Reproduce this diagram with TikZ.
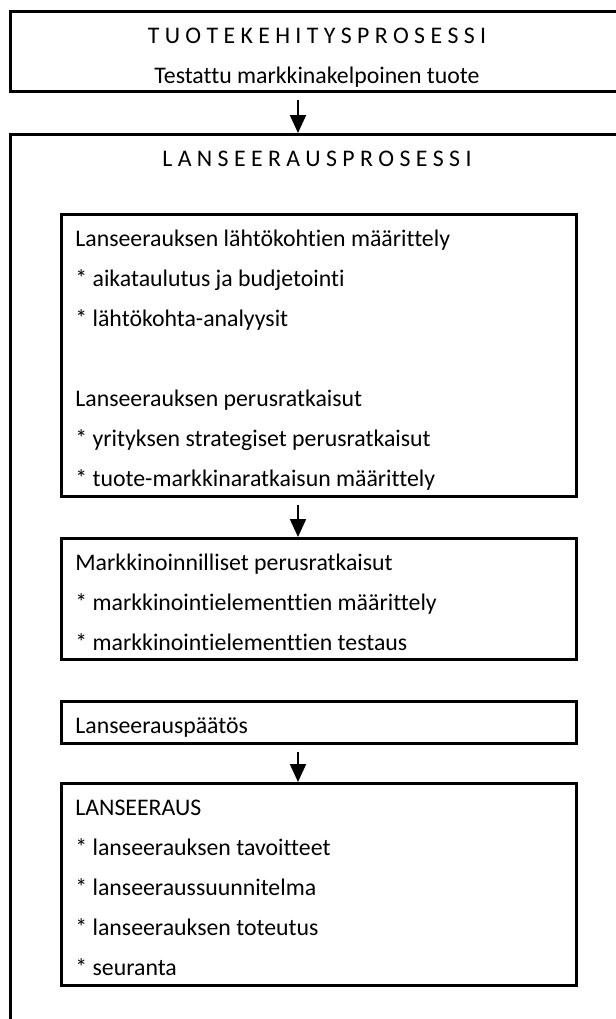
\documentclass[tikz,border=0pt]{standalone}
\usepackage{fontspec}
\setmainfont{Carlito}[Ligatures=CommonOff]
\usetikzlibrary{arrows.meta}

\tikzset{
  procbox/.style={draw, line width=1.4pt, anchor=north west, inner sep=0pt},
  stepbox/.style={procbox, minimum width=257.5pt},
  itemtext/.style={anchor=base west, inner sep=0pt, font=\fontsize{11.9}{14}\selectfont},
  headtext/.style={anchor=base, inner sep=0pt, font=\fontsize{11.9}{14}\selectfont},
  flow/.style={line width=1pt, -{Triangle[width=8pt,length=9pt]}, shorten <=3.5pt}
}

\begin{document}
\begin{tikzpicture}[x=0.5pt,y=-0.5pt]
            \clip (0,0) rectangle (616,1019);
            \coordinate (ax) at (298,0);

            \node[procbox, minimum width=320pt, minimum height=40pt] (tuote) at (9,10) {};
            \node[headtext] (tuoteT) at (317,43) {T U O T E K E H I T Y S P R O S E S S I};
            \node[headtext] (tuoteS) at (317,83) {Testattu markkinakelpoinen tuote};

            \node[procbox, minimum width=320pt, minimum height=500pt] (lans) at (9,133) {};
            \node[headtext] (lansT) at (317,166) {L A N S E E R A U S P R O S E S S I};

            \node[stepbox, minimum height=141pt] (lahto) at (60,213) {};
            \node[itemtext] (lahto1) at (75,246) {Lanseerauksen lähtökohtien määrittely};
            \node[itemtext] (lahto2) at (75,286) {* aikataulutus ja budjetointi};
            \node[itemtext] (lahto3) at (75,326) {* lähtökohta-analyysit};
            \node[itemtext] (perus1) at (75,406) {Lanseerauksen perusratkaisut};
            \node[itemtext] (perus2) at (75,446) {* yrityksen strategiset perusratkaisut};
            \node[itemtext] (perus3) at (75,486) {* tuote-markkinaratkaisun määrittely};

            \node[stepbox, minimum height=60.5pt] (markk) at (60,537) {};
            \node[itemtext] (markk1) at (75,570) {Markkinoinnilliset perusratkaisut};
            \node[itemtext] (markk2) at (75,610) {* markkinointielementtien määrittely};
            \node[itemtext] (markk3) at (75,650) {* markkinointielementtien testaus};

            \node[stepbox, minimum height=21pt] (paatos) at (60,700) {};
            \node[itemtext] (paatos1) at (75,733) {Lanseerauspäätös};

            \node[stepbox, minimum height=101pt] (lanseeraus) at (60,782) {};
            \node[itemtext] (lanseeraus1) at (75,815) {LANSEERAUS};
            \node[itemtext] (lanseeraus2) at (75,855) {* lanseerauksen tavoitteet};
            \node[itemtext] (lanseeraus3) at (75,895) {* lanseeraussuunnitelma};
            \node[itemtext] (lanseeraus4) at (75,935) {* lanseerauksen toteutus};
            \node[itemtext] (lanseeraus5) at (75,975) {* seuranta};

            \draw[flow] (tuote.south -| ax) -- (lans.north -| ax);
            \draw[flow] (lahto.south -| ax) -- (markk.north -| ax);
            \draw[flow] (paatos.south -| ax) -- (lanseeraus.north -| ax);
\end{tikzpicture}
\end{document}
